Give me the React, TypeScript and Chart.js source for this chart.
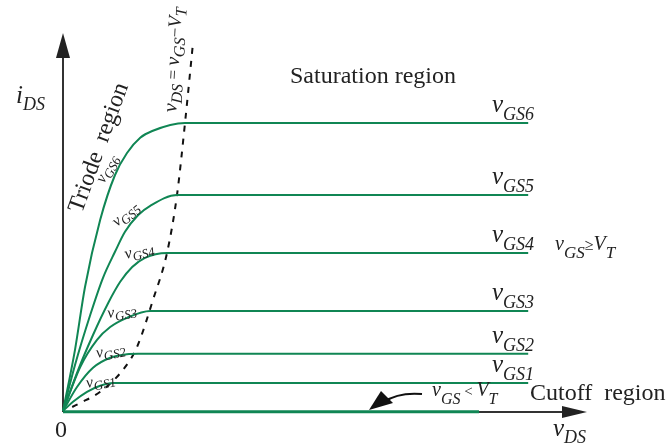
import React, { useEffect, useRef } from "react";
import { Chart, registerables } from "chart.js";

Chart.register(...registerables);

// ---- data (vDS in V, iDS in mA) ----
const vds1 = [0, 0.25, 0.6, 0.93, 1.25, 11.63];
const ids1 = [0, 0.23, 0.48, 0.63, 0.7, 0.7];
const vds2 = [0, 0.35, 0.75, 1.18, 1.6, 1.88, 11.63];
const ids2 = [0, 0.6, 1.08, 1.33, 1.42, 1.43, 1.43];
const vds3 = [0, 0.43, 0.85, 1.18, 1.6, 2.18, 11.63];
const ids3 = [0, 1.1, 1.78, 2.1, 2.33, 2.5, 2.5];
const vds4 = [0, 0.38, 0.75, 1.13, 1.43, 1.73, 2.05, 2.6, 11.63];
const ids4 = [0, 1.03, 1.9, 2.7, 3.23, 3.6, 3.83, 3.95, 3.95];
const vds5 = [0, 0.3, 0.68, 1.0, 1.3, 1.55, 1.88, 2.18, 2.85, 11.63];
const ids5 = [0, 1.15, 2.4, 3.33, 3.98, 4.48, 4.9, 5.13, 5.4, 5.4];
const vds6 = [0, 0.3, 0.55, 0.93, 1.3, 1.6, 1.93, 2.23, 3.05, 11.63];
const ids6 = [0, 1.53, 3.1, 4.78, 5.9, 6.45, 6.83, 7.0, 7.2, 7.2];
const vdsCut = [0, 10.4];
const idsCut = [-0.02, -0.02];
const vdsEdge = [0.23, 0.43, 0.93, 1.5, 1.85, 2.25, 2.6, 2.85, 3.05, 3.25];
const idsEdge = [0.1, 0.2, 0.48, 1.03, 1.6, 2.78, 3.95, 5.4, 7.2, 9.2];

const curveNames = ["GS1", "GS2", "GS3", "GS4", "GS5", "GS6"];
const satLevels = [0.7, 1.43, 2.5, 3.95, 5.4, 7.2];

const X_MIN = -1.575;
const X_MAX = 15.125;
const Y_MIN = -0.85;
const Y_MAX = 10.275;
const X_AXIS_END = 13.1;
const Y_AXIS_END = 9.45;

const GREEN = "rgb(16,134,84)";
const INK = "#222";

type Seg = { t: string; size: number; italic?: boolean; dy?: number };

function fontOf(s: Seg) {
  return `${s.italic ? "italic " : ""}${s.size}px "Liberation Serif", "Times New Roman", serif`;
}

function drawRich(
  ctx: CanvasRenderingContext2D,
  x: number,
  y: number,
  segs: Seg[],
  angle = 0,
  align: "left" | "center" = "left"
) {
  ctx.save();
  ctx.translate(x, y);
  ctx.rotate((angle * Math.PI) / 180);
  ctx.fillStyle = INK;
  ctx.textBaseline = "alphabetic";
  ctx.textAlign = "left";
  const widths = segs.map((s) => {
    ctx.font = fontOf(s);
    return ctx.measureText(s.t).width;
  });
  const total = widths.reduce((a, b) => a + b, 0);
  let cx = align === "center" ? -total / 2 : 0;
  segs.forEach((s, i) => {
    ctx.font = fontOf(s);
    ctx.fillText(s.t, cx, s.dy || 0);
    cx += widths[i];
  });
  ctx.restore();
}

function vSub(sub: string, big: number, small: number, drop: number): Seg[] {
  return [
    { t: "v", size: big, italic: true },
    { t: sub, size: small, italic: true, dy: drop },
  ];
}

const toPts = (xs: number[], ys: number[]) => xs.map((x, i) => ({ x, y: ys[i] }));

const decorPlugin = {
  id: "decor",
  beforeDatasetsDraw(chart: any) {
    const ctx: CanvasRenderingContext2D = chart.ctx;
    const xs = chart.scales.x;
    const ys = chart.scales.y;
    const ox = xs.getPixelForValue(0);
    const oy = ys.getPixelForValue(0);
    const yTop = ys.getPixelForValue(Y_AXIS_END);
    const xRight = xs.getPixelForValue(X_AXIS_END);
    ctx.save();
    ctx.strokeStyle = "#333";
    ctx.fillStyle = "#222";
    ctx.lineWidth = 2;
    // y axis
    ctx.beginPath();
    ctx.moveTo(ox, oy + 1);
    ctx.lineTo(ox, yTop + 20);
    ctx.stroke();
    ctx.beginPath();
    ctx.moveTo(ox, yTop);
    ctx.lineTo(ox - 7, yTop + 25);
    ctx.lineTo(ox + 7, yTop + 25);
    ctx.closePath();
    ctx.fill();
    // x axis
    ctx.beginPath();
    ctx.moveTo(ox, oy + 1);
    ctx.lineTo(xRight - 20, oy + 1);
    ctx.stroke();
    ctx.beginPath();
    ctx.moveTo(xRight, oy + 1);
    ctx.lineTo(xRight - 25, oy + 1 - 6);
    ctx.lineTo(xRight - 25, oy + 1 + 6);
    ctx.closePath();
    ctx.fill();
    ctx.restore();
  },
  afterDatasetsDraw(chart: any) {
    const ctx: CanvasRenderingContext2D = chart.ctx;
    const xs = chart.scales.x;
    const ys = chart.scales.y;
    const px = (v: number) => xs.getPixelForValue(v);
    const py = (v: number) => ys.getPixelForValue(v);

    // right-hand curve labels
    satLevels.forEach((lvl, i) => {
      drawRich(ctx, px(10.725), py(lvl) - 11, vSub(curveNames[i], 25, 18, 8));
    });

    // small labels along triode part
    const small: [number, number, number][] = [
      [87, 388, -12],
      [97, 358, -12],
      [108, 318, -9],
      [126, 259, -15],
      [117, 227, -40],
      [104, 184, -62],
    ];
    small.forEach(([x, y, a], i) => {
      drawRich(ctx, x, y, vSub(curveNames[i], 16, 13, 4), a);
    });

    // axis titles
    drawRich(ctx, 16, 103, [
      { t: "i", size: 25, italic: true },
      { t: "DS", size: 18, italic: true, dy: 7 },
    ]);
    drawRich(ctx, px(12.25), 436, vSub("DS", 25, 18, 7));
    drawRich(ctx, px(-0.2), 437, [{ t: "0", size: 24 }]);

    // region labels
    drawRich(ctx, px(5.675), py(8.2), [{ t: "Saturation region", size: 24 }]);
    drawRich(ctx, 530, 400, [{ t: "Cutoff  region", size: 24 }]);
    drawRich(ctx, 105, 150, [{ t: "Triode  region", size: 24 }], -70, "center");

    // boundary label
    drawRich(
      ctx,
      179,
      60,
      [
        { t: "v", size: 20, italic: true },
        { t: "DS", size: 16, italic: true, dy: 5 },
        { t: " = ", size: 17 },
        { t: "v", size: 20, italic: true },
        { t: "GS", size: 16, italic: true, dy: 5 },
        { t: "\u2212", size: 17 },
        { t: "V", size: 19, italic: true },
        { t: "T", size: 16, italic: true, dy: 5 },
      ],
      -87,
      "center"
    );

    // conditions
    drawRich(ctx, 555, 250, [
      { t: "v", size: 20, italic: true },
      { t: "GS", size: 17, italic: true, dy: 8 },
      { t: "\u2265", size: 16 },
      { t: "V", size: 20, italic: true },
      { t: "T", size: 17, italic: true, dy: 8 },
    ]);
    drawRich(ctx, 432, 396, [
      { t: "v", size: 20, italic: true },
      { t: "GS", size: 16, italic: true, dy: 8 },
      { t: " < ", size: 15 },
      { t: "V", size: 20, italic: true },
      { t: "T", size: 16, italic: true, dy: 8 },
    ]);

    // curved arrow to cutoff line
    ctx.save();
    ctx.strokeStyle = "#111";
    ctx.fillStyle = "#111";
    ctx.lineWidth = 2;
    ctx.beginPath();
    ctx.moveTo(422, 394);
    ctx.quadraticCurveTo(398, 392, 384, 402);
    ctx.stroke();
    ctx.beginPath();
    ctx.moveTo(369, 410);
    ctx.lineTo(381, 391);
    ctx.lineTo(393, 403);
    ctx.closePath();
    ctx.fill();
    ctx.restore();
  },
};

export default function App() {
  const ref = useRef<HTMLCanvasElement | null>(null);

  useEffect(() => {
    document.body.style.margin = "0";
    const canvas = ref.current;
    if (!canvas) return;
    const greenLine = (xs: number[], ys: number[]) => ({
      data: toPts(xs, ys),
      showLine: true,
      borderColor: GREEN,
      backgroundColor: GREEN,
      borderWidth: 2,
      pointRadius: 0,
      cubicInterpolationMode: "monotone" as const,
      fill: false,
    });
    const chart = new Chart(canvas, {
      type: "scatter",
      data: {
        datasets: [
          greenLine(vds1, ids1),
          greenLine(vds2, ids2),
          greenLine(vds3, ids3),
          greenLine(vds4, ids4),
          greenLine(vds5, ids5),
          greenLine(vds6, ids6),
          { ...greenLine(vdsCut, idsCut), borderWidth: 3 },
          {
            data: toPts(vdsEdge, idsEdge),
            showLine: true,
            borderColor: "#111",
            borderWidth: 2,
            borderDash: [6, 7],
            pointRadius: 0,
            cubicInterpolationMode: "monotone" as const,
            fill: false,
          },
        ],
      },
      options: {
        animation: false,
        responsive: false,
        maintainAspectRatio: false,
        layout: { padding: 0 },
        plugins: { legend: { display: false }, tooltip: { enabled: false } },
        events: [],
        scales: {
          x: { type: "linear", min: X_MIN, max: X_MAX, display: false },
          y: { type: "linear", min: Y_MIN, max: Y_MAX, display: false },
        },
      },
      plugins: [decorPlugin],
    });
    return () => chart.destroy();
  }, []);

  return (
    <div style={{ width: 668, height: 445, background: "#fff" }}>
      <canvas ref={ref} width={668} height={445} style={{ display: "block" }} />
    </div>
  );
}
